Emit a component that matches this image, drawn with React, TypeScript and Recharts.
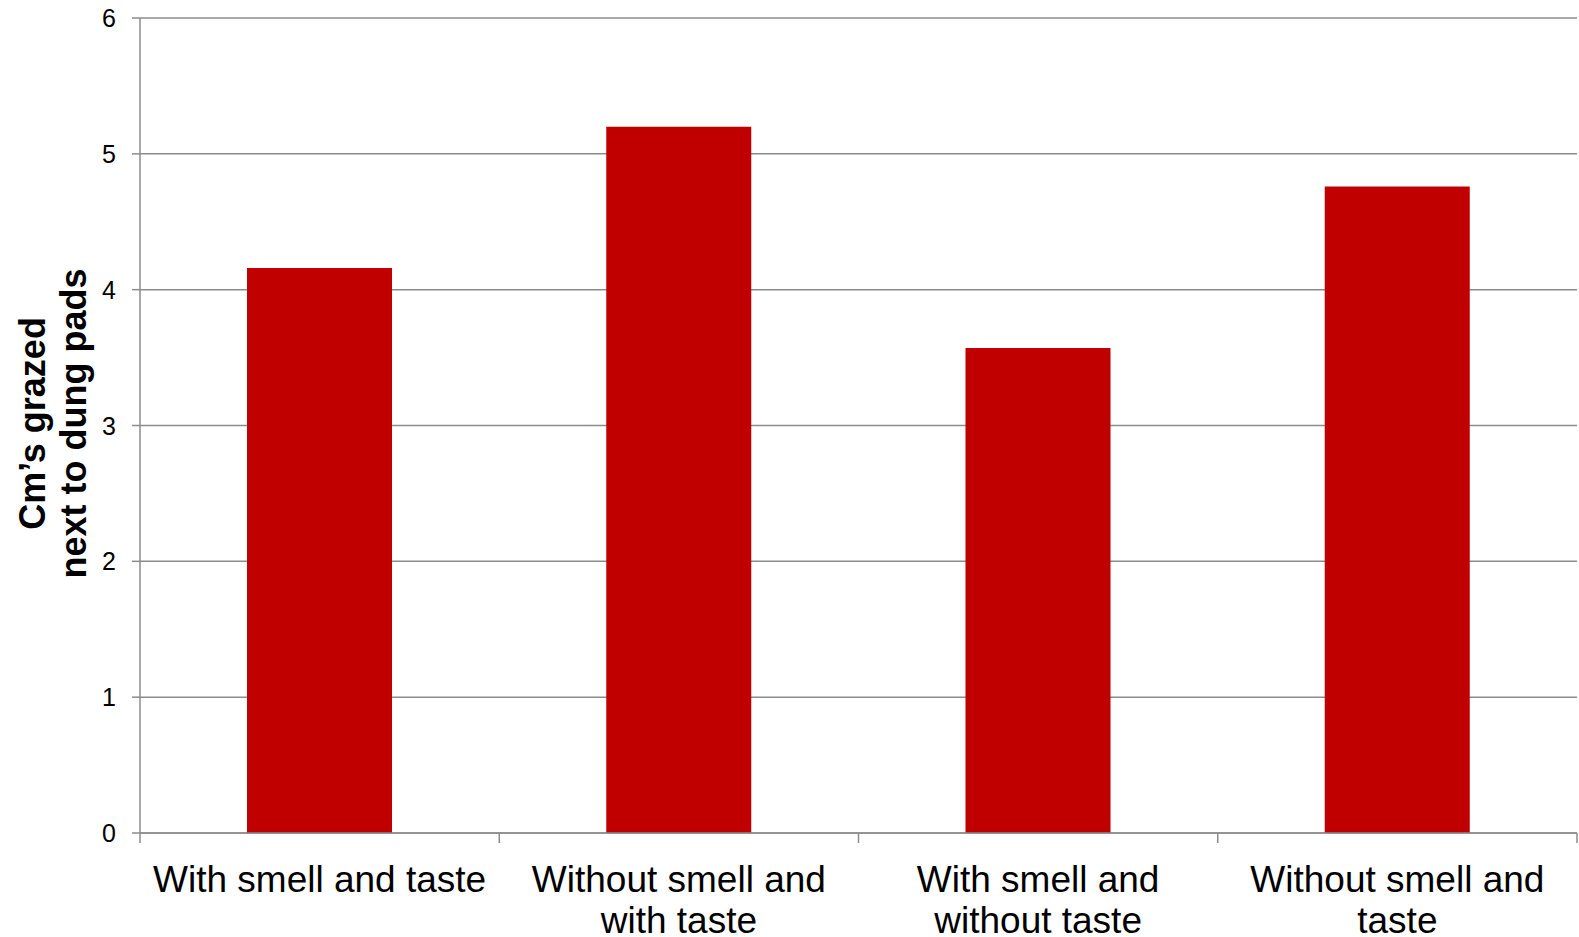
import React from "react"
import { BarChart, Bar, XAxis, YAxis, CartesianGrid } from "recharts"

const categories = [
  "With smell and taste",
  "Without smell and with taste",
  "With smell and without taste",
  "Without smell and taste",
]
const grazedCm = [4.16, 5.2, 3.57, 4.76]
const yTicks = [0, 1, 2, 3, 4, 5, 6]

const data = categories.map((name, i) => ({ name, value: grazedCm[i] }))

const FONT = '"Liberation Sans", Arial, Helvetica, sans-serif'
const GRID = "#8c8c8c"
const W = 1579
const H = 937
const PLOT_W = W - 140 - 2

// measure with a canvas so labels break where the reference breaks them
let canvasCtx: CanvasRenderingContext2D | null = null
function measure(s: string, size: number) {
  if (!canvasCtx) canvasCtx = document.createElement("canvas").getContext("2d")
  if (!canvasCtx) return s.length * size * 0.5
  canvasCtx.font = `${size}px ${FONT}`
  return canvasCtx.measureText(s).width
}

function wrap(text: string, maxW: number, size: number) {
  const words = text.split(" ")
  const lines: string[] = []
  let cur = ""
  for (const w of words) {
    const next = cur ? cur + " " + w : w
    if (cur && measure(next, size) > maxW) {
      lines.push(cur)
      cur = w
    } else cur = next
  }
  if (cur) lines.push(cur)
  return lines
}

function CategoryTick(props: any) {
  const { x, y, payload, index, visibleTicksCount } = props
  const half = payload?.offset ? payload.offset : PLOT_W / visibleTicksCount / 2
  const isLast = index === visibleTicksCount - 1
  const lines = wrap(String(payload.value), half * 2 - 20, 37)
  return (
    <g>
      <line x1={x - half} y1={y} x2={x - half} y2={y + 10} stroke={GRID} strokeWidth={1.5} />
      {isLast && <line x1={x + half} y1={y} x2={x + half} y2={y + 10} stroke={GRID} strokeWidth={1.5} />}
      <text x={x} y={y + 59} textAnchor="middle" fontSize={37} fontFamily={FONT} fill="#000">
        {lines.map((l, i) => (
          <tspan key={i} x={x} dy={i === 0 ? 0 : 41}>
            {l}
          </tspan>
        ))}
      </text>
    </g>
  )
}

function ValueTick(props: any) {
  const { x, y, payload } = props
  return (
    <text x={x} y={y} dy={9} textAnchor="end" fontSize={25} fontFamily={FONT} fill="#000">
      {payload.value}
    </text>
  )
}

function YTitle(props: any) {
  const vb = props.viewBox || { y: 18, height: 815 }
  const cy = vb.y + vb.height / 2 - 2
  return (
    <g fontFamily={FONT} fontSize={36} fontWeight="bold" fill="#000" textAnchor="middle">
      <text x={45} y={cy} transform={`rotate(-90, 45, ${cy})`}>Cm’s grazed</text>
      <text x={86} y={cy} transform={`rotate(-90, 86, ${cy})`}>next to dung pads</text>
    </g>
  )
}

export default function App() {
  return (
    <div style={{ position: "absolute", left: 0, top: 0, width: W, height: H, background: "#fff" }}>
      <BarChart width={W} height={H} data={data} margin={{ top: 18, right: 2, left: 0, bottom: 0 }}>
        <CartesianGrid vertical={false} stroke={GRID} strokeWidth={1.5} />
        <XAxis
          dataKey="name"
          height={104}
          axisLine={{ stroke: GRID, strokeWidth: 1.5 }}
          tickLine={false}
          tickSize={0}
          tickMargin={0}
          interval={0}
          tick={<CategoryTick />}
        />
        <YAxis
          width={140}
          domain={[0, 6]}
          ticks={yTicks}
          interval={0}
          axisLine={{ stroke: GRID, strokeWidth: 1.5 }}
          tickLine={{ stroke: GRID, strokeWidth: 1.5 }}
          tickSize={8}
          tickMargin={16}
          tick={<ValueTick />}
          label={<YTitle />}
        />
        <Bar dataKey="value" fill="#c00000" barSize={145} isAnimationActive={false} />
      </BarChart>
    </div>
  )
}
